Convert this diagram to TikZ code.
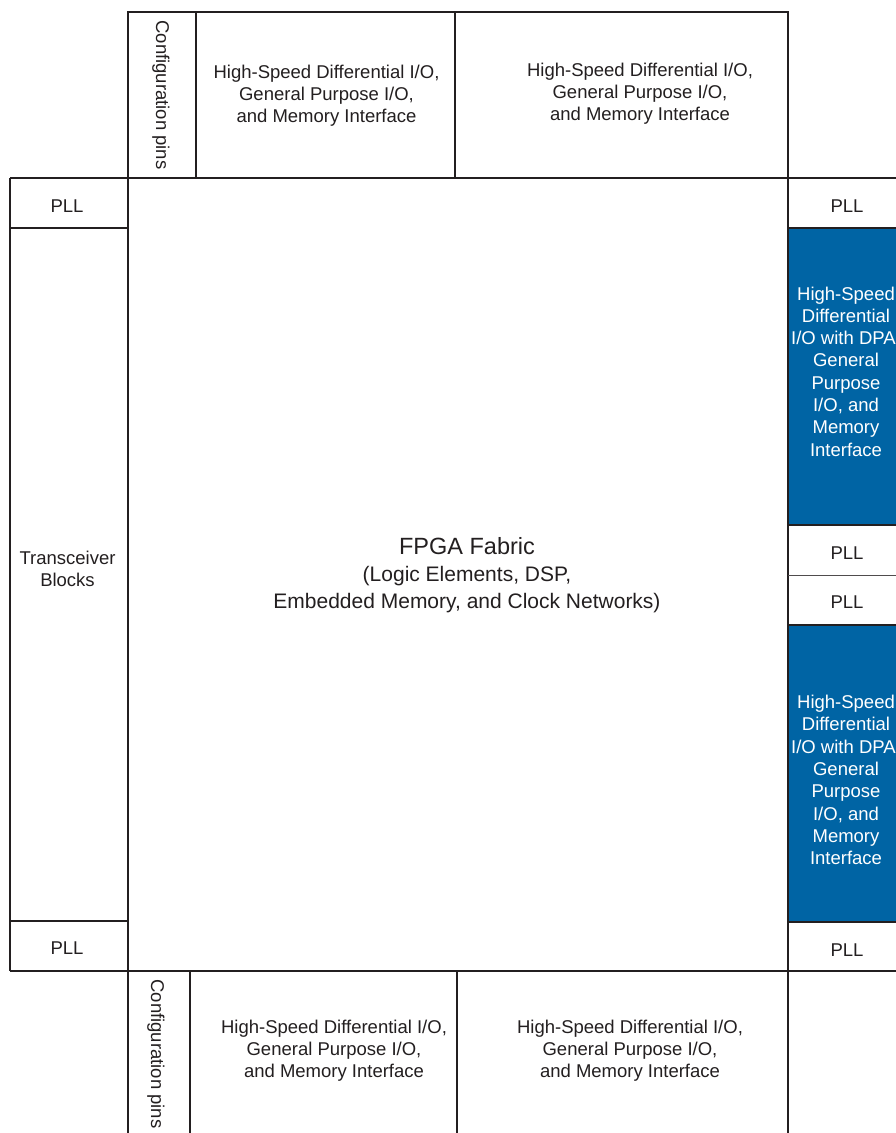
\documentclass[tikz,border=0pt]{standalone}
\usepackage{fontspec}
\setmainfont{Liberation Sans}
\definecolor{ln}{HTML}{231F20}
\definecolor{dpa}{HTML}{0064A4}
\begin{document}
\begin{tikzpicture}[x=1pt,y=-1pt,
  edge/.style={draw=ln, line width=1.3pt},
  lbl/.style={align=center, text=ln, inner sep=0pt, font=\fontsize{18.5}{22}\selectfont},
  wlbl/.style={lbl, text=white, font=\fontsize{18.5}{22.3}\selectfont},
  cfg/.style={lbl, rotate=-90}]
\useasboundingbox (0,0) rectangle (896,1133);
\fill[white] (0,0) rectangle (896,1133);
% blue DPA blocks
\fill[dpa] (788,228) rectangle (900,525);
\fill[dpa] (788,625) rectangle (900,922);
% outlines
\draw[edge] (128,1140) -- (128,12) -- (788,12) -- (788,1140);
\draw[edge] (196,12) -- (196,178);
\draw[edge] (455,12) -- (455,178);
\draw[edge] (10,178) -- (900,178);
\draw[edge] (10,971) -- (900,971);
\draw[edge] (10,178) -- (10,971);
\draw[edge] (10,228) -- (128,228);
\draw[edge] (10,921) -- (128,921);
\draw[edge] (788,228) -- (900,228);
\draw[edge] (788,525) -- (900,525);
\draw[edge, line width=1pt, draw=ln!80] (788,575) -- (900,575);
\draw[edge] (788,625) -- (900,625);
\draw[edge] (788,922) -- (900,922);
\draw[edge] (190,971) -- (190,1140);
\draw[edge] (457,971) -- (457,1140);
% labels
\node[cfg] (cfgtop) at (161,95) {Configuration pins};
\node[lbl] (iot1) at (326.5,96) {High-Speed Differential I/O,\\General Purpose I/O,\\and Memory Interface};
\node[lbl] (iot2) at (640,94) {High-Speed Differential I/O,\\General Purpose I/O,\\and Memory Interface};
\node[lbl] (pllL1) at (67,206) {PLL};
\node[lbl] (trx) at (67.5,569) {Transceiver\\Blocks};
\node[lbl] (pllL2) at (67,948) {PLL};
\node[lbl] (pllR1) at (847,206) {PLL};
\node[wlbl] (dpa1) at (846,371.5) {High-Speed\\Differential\\I/O with DPA,\\General\\Purpose\\I/O, and\\Memory\\Interface};
\node[lbl] (pllR2) at (847,553) {PLL};
\node[lbl] (pllR3) at (847,602) {PLL};
\node[wlbl] (dpa2) at (846,780) {High-Speed\\Differential\\I/O with DPA,\\General\\Purpose\\I/O, and\\Memory\\Interface};
\node[lbl] (pllR4) at (847,950) {PLL};
\node[lbl, font=\fontsize{21}{27}\selectfont] (fab) at (467,575.5) {{\fontsize{23.5}{27}\selectfont FPGA Fabric}\\(Logic Elements, DSP,\\Embedded Memory, and Clock Networks)};
\node[cfg] (cfgbot) at (156,1054) {Configuration pins};
\node[lbl] (iob1) at (334,1051) {High-Speed Differential I/O,\\General Purpose I/O,\\and Memory Interface};
\node[lbl] (iob2) at (630,1051) {High-Speed Differential I/O,\\General Purpose I/O,\\and Memory Interface};
\end{tikzpicture}
\end{document}
